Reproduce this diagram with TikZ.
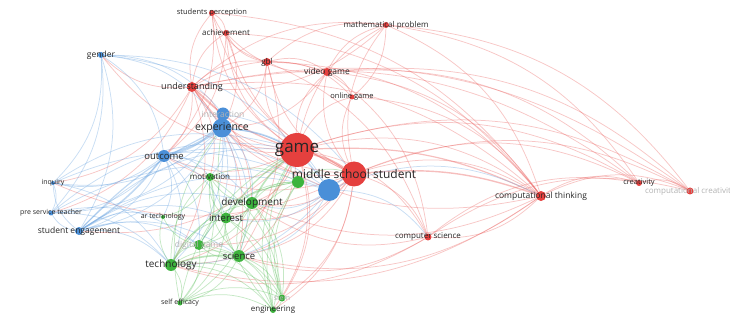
\documentclass[tikz,border=0pt]{standalone}
\usepackage{fontspec}
\setmainfont{Open Sans}
\usetikzlibrary{positioning}
\pgfdeclarelayer{links}
\pgfsetlayers{links,main}

\definecolor{vred}{HTML}{E5403E}
\definecolor{vblue}{HTML}{4A8FD8}
\definecolor{vgreen}{HTML}{3DB33D}

\tikzset{
  kw/.style={circle, inner sep=0pt, fill=#1, draw=none},
  lab/.style={font=\fontsize{#1}{#1}\selectfont, text=black!85, inner sep=0pt},
  faint/.style={font=\fontsize{#1}{#1}\selectfont, text=black!30, inner sep=0pt},
  rl/.style={draw=vred!85, opacity=.35, line width=.75pt},
  bl/.style={draw=vblue!85, opacity=.35, line width=.75pt},
  gl/.style={draw=vgreen!85, opacity=.35, line width=.75pt},
}

\begin{document}
\begin{tikzpicture}[x=1pt,y=-1pt]
\useasboundingbox (0,0) rectangle (730,320);

% red cluster
\node[kw=vred, minimum size=34, label={[lab=17]center:game}] (game) at (297,150) {};
\node[kw=vred, minimum size=25, label={[lab=12]center:middle school student}] (mss) at (354,174) {};
\node[kw=vred, minimum size=10, label={[lab=8.5]center:computational thinking}] (ct) at (541,196) {};
\node[kw=vred, minimum size=6, label={[lab=7.5]center:creativity}] (cre) at (639,183) {};
\node[kw=vred, minimum size=7, label={[faint=8]center:computational creativity}] (ccre) at (690,191) {};
\node[kw=vred, minimum size=7, label={[lab=8]center:computer science}] (cs) at (428,237) {};
\node[kw=vred, minimum size=10, label={[lab=9]center:understanding}] (und) at (192,87) {};
\node[kw=vred, minimum size=8, label={[lab=8]center:gbl}] (gbl) at (267,62) {};
\node[kw=vred, minimum size=8, label={[lab=8.5]center:video game}] (vg) at (327,72) {};
\node[kw=vred, minimum size=5, label={[lab=7.5]center:online game}] (og) at (352,97) {};
\node[kw=vred, minimum size=6, label={[lab=8]center:mathematical problem}] (mp) at (386,25) {};
\node[kw=vred, minimum size=6, label={[lab=8]center:achievement}] (ach) at (226,33) {};
\node[kw=vred, minimum size=6, label={[lab=7.5]center:students perception}] (sp) at (212,13) {};

% blue cluster
\node[kw=vblue, minimum size=6, label={[lab=8.5]center:gender}] (gen) at (101,55) {};
\node[kw=vblue, minimum size=13, label={[faint=8.5]center:interaction}] (inter) at (223,114) {};
\node[kw=vblue, minimum size=19, label={[lab=10.5]center:experience}] (exper) at (222,128) {};
\node[kw=vblue, minimum size=12, label={[lab=9.5]center:outcome}] (outc) at (164,156) {};
\node[kw=vblue, minimum size=4, label={[lab=7]center:inquiry}] (inq) at (53,183) {};
\node[kw=vblue, minimum size=5, label={[lab=7]center:pre service teacher}] (pst) at (51,213) {};
\node[kw=vblue, minimum size=8, label={[lab=8.5]center:student engagement}] (se) at (79,231) {};
\node[kw=vblue, minimum size=22] (blu) at (329,190) {};

% green cluster
\node[kw=vgreen, minimum size=12] (grn) at (298,182) {};
\node[kw=vgreen, minimum size=8, label={[lab=8]center:motivation}] (mot) at (210,177) {};
\node[kw=vgreen, minimum size=12, label={[lab=10]center:development}] (dev) at (252,203) {};
\node[kw=vgreen, minimum size=11, label={[lab=9.5]center:interest}] (intst) at (226,218) {};
\node[kw=vgreen, minimum size=4, label={[lab=7]center:ar technology}] (art) at (163,217) {};
\node[kw=vgreen, minimum size=10, label={[faint=8.5]center:digital game}] (dg) at (199,245) {};
\node[kw=vgreen, minimum size=12, label={[lab=10]center:technology}] (tech) at (171,265) {};
\node[kw=vgreen, minimum size=12, label={[lab=9.5]center:science}] (sci) at (239,256) {};
\node[kw=vgreen, minimum size=5, label={[lab=7]center:self efficacy}] (seff) at (180,303) {};
\node[kw=vgreen, minimum size=7, label={[faint=7]center:stem}] (stem) at (282,298) {};
\node[kw=vgreen, minimum size=6, label={[lab=8]center:engineering}] (eng) at (273,310) {};

\begin{pgfonlayer}{links}
% red links
\foreach \s/\t in {game/und, game/gbl, game/vg, game/og, game/mp, game/ach, game/sp,
    game/ct, game/cre, game/ccre, game/cs, game/exper, game/outc, game/gen,
    game/dev, game/sci, game/tech, game/intst, game/mot, game/stem, game/eng, game/se,
    mss/ct, mss/cre, mss/ccre, mss/cs, mss/mp, mss/vg, mss/gbl, mss/und, mss/ach,
    mss/sp, mss/og, mss/exper, mss/outc, mss/tech, mss/sci, mss/dev, mss/intst,
    mss/stem, mss/eng, mss/dg, mss/inq,
    und/gbl, und/vg, und/ach, und/sp, und/exper, und/outc, und/ct, und/mp, und/gen,
    und/mot, und/dev, und/sci, und/tech, und/inq, und/pst,
    gbl/vg, gbl/ach, gbl/sp, gbl/mp, gbl/og, gbl/exper, gbl/ct, gbl/cs, gbl/sci,
    vg/og, vg/mp, vg/ach, vg/ct, vg/ccre, vg/cre, vg/cs, vg/exper,
    mp/ct, mp/cre, mp/ccre, mp/og, mp/und,
    ct/cre, ct/ccre, ct/cs, ct/sci, ct/tech, ct/exper, ct/dev,
    cre/ccre, cs/ccre, cs/cre, cs/tech, cs/sci, cs/dev,
    sp/ach, ach/exper, ach/outc, sp/outc, og/ct, sp/ct, ach/ct, und/ccre, und/cre}
  \draw[rl] (\s) to[bend left=24] (\t);
\draw[rl, line width=2.2pt, opacity=.45] (game) to[bend left=8] (mss);
\draw[rl, line width=1.4pt, opacity=.4] (mss) to[bend left=12] (ct);
\draw[rl, line width=1.4pt, opacity=.4] (game) to[bend left=12] (und);
\draw[rl, line width=1.2pt, opacity=.4] (game) to[bend left=14] (ct);

% blue links
\foreach \s/\t in {gen/exper, gen/inter, gen/outc, gen/se, gen/inq, gen/pst, gen/blu,
    gen/mss, exper/inter, exper/se, exper/inq, exper/pst, exper/blu, exper/dg,
    exper/tech, exper/mot, exper/intst, exper/dev, exper/sci,
    outc/se, outc/inq, outc/pst, outc/blu, outc/mot, outc/dg, outc/tech, outc/art,
    outc/intst, outc/dev,
    se/pst, se/inq, se/blu, se/dg, se/tech, se/art, se/sci, se/dev, se/intst,
    inq/pst, inq/blu, inq/tech, pst/blu, pst/dg, pst/tech, inq/game, pst/game, se/game,
    blu/ct, blu/cs, blu/dev, blu/sci, blu/tech, blu/intst, inter/blu, inter/outc}
  \draw[bl] (\s) to[bend left=24] (\t);
\draw[bl, line width=2.2pt, opacity=.45] (exper) to[bend left=8] (outc);
\draw[bl, line width=1.6pt, opacity=.4] (outc) to[bend left=10] (se);
\draw[bl, line width=1.6pt, opacity=.4] (exper) to[bend left=10] (game);
\draw[bl, line width=1.4pt, opacity=.4] (blu) to[bend left=8] (mss);
\draw[bl, line width=1.2pt, opacity=.4] (se) to[bend left=10] (exper);

% green links
\foreach \s/\t in {tech/sci, tech/intst, tech/dev, tech/mot, tech/seff, tech/stem,
    tech/eng, tech/dg, tech/grn, tech/art,
    sci/dev, sci/intst, sci/stem, sci/eng, sci/seff, sci/grn, sci/mot, sci/dg,
    dev/intst, dev/mot, dev/grn, dev/stem, dev/eng, dev/seff, dev/dg,
    intst/mot, intst/grn, intst/dg, intst/stem, intst/eng, intst/seff,
    mot/grn, mot/dg, mot/art, mot/seff, mot/stem,
    dg/seff, dg/stem, dg/eng, dg/art, dg/grn,
    seff/stem, seff/eng, stem/eng, stem/grn, eng/grn, grn/game, grn/mss,
    eng/game, stem/game, seff/game, seff/exper, eng/exper}
  \draw[gl] (\s) to[bend left=24] (\t);
\draw[gl, line width=1.6pt, opacity=.4] (tech) to[bend left=10] (sci);
\draw[gl, line width=1.6pt, opacity=.4] (dev) to[bend left=10] (game);
\draw[gl, line width=1.2pt, opacity=.4] (intst) to[bend left=10] (game);
\end{pgfonlayer}
\end{tikzpicture}
\end{document}
